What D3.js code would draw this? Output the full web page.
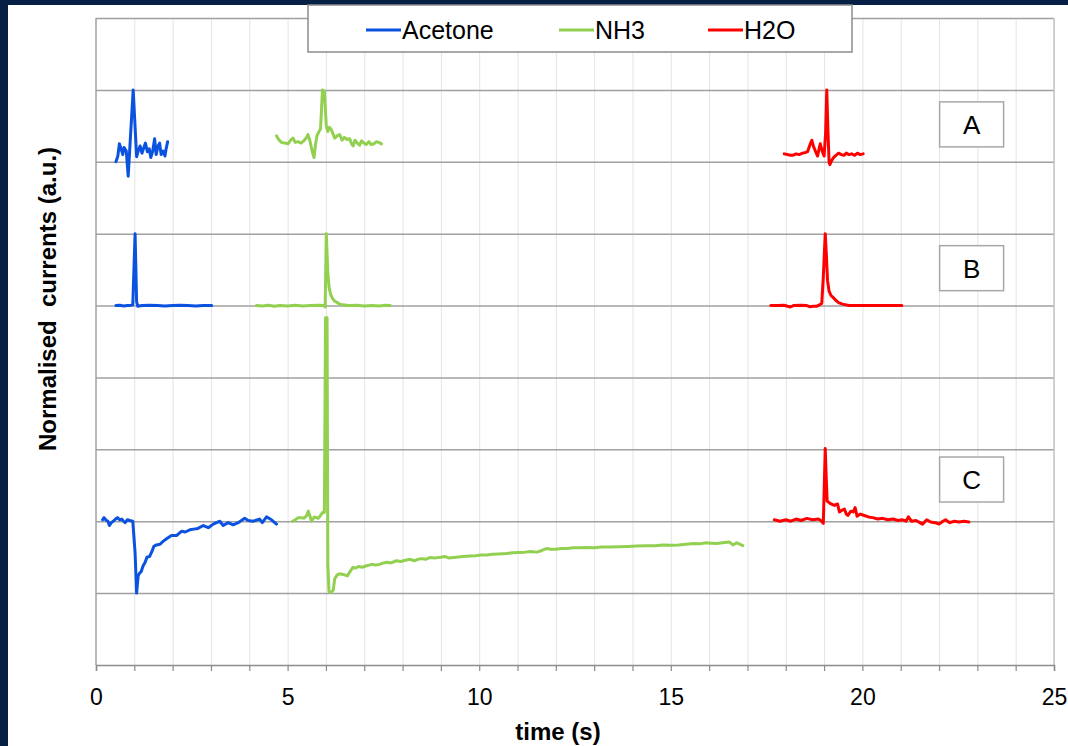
<!DOCTYPE html>
<html>
<head>
<meta charset="utf-8">
<script src="https://cdn.jsdelivr.net/npm/d3@7"></script>
<style>
  body { margin: 0; background: #061f45; }
  svg { display: block; font-family: "Liberation Sans", Arial, sans-serif; }
</style>
</head>
<body>
<div id="chart"></div>
<script>
// series and panels
const seriesNames = ["Acetone", "NH3", "H2O"];
const seriesColors = ["#0b52e0", "#92d050", "#ff0000"];
const panelNames = ["A", "B", "C"];
const panelOffsets = [7, 5, 2];
const xTickLabels = [0, 5, 10, 15, 20, 25];

// [time (s), normalised current relative to the panel baseline]
const acetoneA = [[0.52,0],[0.57,0.08],[0.61,0.25],[0.66,0.17],[0.70,0.10],[0.73,0.2],[0.79,0.15],[0.84,-0.2],[0.97,1.0],[1.06,0.07],[1.10,0.15],[1.15,0.22],[1.20,0.12],[1.25,0.2],[1.29,0.26],[1.34,0.14],[1.39,0.18],[1.43,0.06],[1.48,0.15],[1.53,0.32],[1.57,0.1],[1.62,0.22],[1.66,0.26],[1.70,0.10],[1.75,0.15],[1.80,0.08],[1.83,0.18],[1.87,0.28]];
const nh3A = [[4.71,0.36],[4.78,0.30],[4.84,0.27],[4.92,0.26],[5.01,0.25],[5.08,0.30],[5.14,0.33],[5.20,0.27],[5.27,0.28],[5.35,0.26],[5.42,0.29],[5.50,0.34],[5.53,0.38],[5.58,0.30],[5.64,0.15],[5.69,0.06],[5.73,0.25],[5.77,0.37],[5.83,0.43],[5.86,0.46],[5.91,1.0],[5.96,0.98],[6.01,0.5],[6.05,0.42],[6.09,0.48],[6.14,0.45],[6.19,0.38],[6.23,0.33],[6.29,0.36],[6.36,0.38],[6.42,0.30],[6.48,0.34],[6.55,0.31],[6.62,0.32],[6.67,0.25],[6.71,0.22],[6.76,0.30],[6.82,0.26],[6.88,0.23],[6.93,0.29],[6.99,0.26],[7.05,0.24],[7.12,0.28],[7.18,0.24],[7.25,0.25],[7.32,0.28],[7.38,0.27],[7.45,0.25]];
const h2oA = [[17.96,0.11],[18.05,0.10],[18.12,0.09],[18.18,0.09],[18.27,0.11],[18.35,0.10],[18.44,0.12],[18.52,0.13],[18.57,0.14],[18.62,0.22],[18.68,0.30],[18.72,0.22],[18.78,0.14],[18.83,0.08],[18.87,0.18],[18.90,0.25],[18.95,0.15],[19.0,0.08],[19.04,0.4],[19.07,1.0],[19.10,0.45],[19.13,0.0],[19.15,-0.04],[19.20,0.02],[19.25,0.06],[19.31,0.09],[19.38,0.12],[19.45,0.10],[19.52,0.09],[19.58,0.12],[19.65,0.10],[19.72,0.11],[19.80,0.09],[19.87,0.12],[19.94,0.10],[20.02,0.11]];

const acetoneB = [[0.52,0],[0.62,0.005],[0.72,-0.005],[0.82,0],[0.92,0.005],[0.96,0.01],[1.02,1.0],[1.06,0.05],[1.09,-0.01],[1.2,0],[1.4,0.005],[1.6,0],[1.8,-0.005],[2.0,0],[2.2,0.005],[2.4,0],[2.6,-0.005],[2.8,0],[3.02,0]];
const nh3B = [[4.19,0],[4.35,-0.005],[4.5,0.005],[4.65,-0.01],[4.8,0],[5.0,-0.005],[5.2,0.005],[5.4,-0.005],[5.6,0],[5.8,0.005],[5.95,0],[5.98,-0.02],[6.01,1.0],[6.05,0.45],[6.08,0.26],[6.12,0.16],[6.17,0.10],[6.23,0.06],[6.30,0.04],[6.36,0.02],[6.43,0.01],[6.6,0],[6.8,0.005],[7.0,-0.005],[7.2,0],[7.4,-0.005],[7.55,0.005],[7.68,0]];
const h2oB = [[17.61,0],[17.8,0],[17.95,0.005],[18.12,-0.02],[18.2,0],[18.4,0.005],[18.55,0],[18.62,-0.015],[18.72,-0.01],[18.8,-0.01],[18.88,0.01],[18.94,0.03],[18.98,0.4],[19.03,1.0],[19.06,0.7],[19.09,0.35],[19.13,0.2],[19.18,0.14],[19.24,0.11],[19.31,0.07],[19.38,0.04],[19.48,0.02],[19.65,0],[19.9,0],[20.2,0],[20.5,0],[20.8,0],[21.03,0]];

const acetoneC = [[0.17,0.02],[0.21,0.05],[0.27,0.01],[0.31,0.0],[0.35,-0.06],[0.40,-0.02],[0.45,0.0],[0.51,0.03],[0.56,0.05],[0.62,0.02],[0.67,0.03],[0.72,0.0],[0.76,-0.02],[0.82,0.02],[0.88,0.01],[0.96,0.0],[1.02,-0.44],[1.06,-1.0],[1.10,-0.76],[1.14,-0.72],[1.18,-0.70],[1.23,-0.62],[1.28,-0.575],[1.33,-0.50],[1.40,-0.49],[1.46,-0.42],[1.51,-0.35],[1.58,-0.33],[1.67,-0.32],[1.75,-0.28],[1.85,-0.24],[1.97,-0.20],[2.10,-0.20],[2.23,-0.14],[2.33,-0.15],[2.45,-0.12],[2.55,-0.11],[2.66,-0.10],[2.80,-0.06],[2.93,-0.09],[3.06,-0.04],[3.23,0.0],[3.32,-0.06],[3.45,-0.02],[3.58,-0.05],[3.71,-0.02],[3.88,0.04],[3.97,0.01],[4.10,0.0],[4.27,0.03],[4.34,-0.02],[4.45,0.06],[4.58,0.02],[4.71,-0.04]];
const nh3C = [[5.13,0.0],[5.20,0.02],[5.28,0.05],[5.36,0.05],[5.43,0.04],[5.50,0.08],[5.54,0.14],[5.58,0.08],[5.62,0.0],[5.70,0.06],[5.75,0.05],[5.80,0.04],[5.86,0.08],[5.91,0.12],[5.96,0.12],[5.99,2.83],[6.03,2.83],[6.05,-0.6],[6.08,-0.98],[6.13,-0.99],[6.19,-0.96],[6.23,-0.80],[6.29,-0.75],[6.35,-0.73],[6.45,-0.74],[6.56,-0.76],[6.63,-0.70],[6.70,-0.645],[6.78,-0.65],[6.85,-0.63],[6.95,-0.64],[7.06,-0.62],[7.13,-0.61],[7.2,-0.60],[7.3,-0.61],[7.4,-0.60],[7.5,-0.58],[7.6,-0.57],[7.7,-0.58],[7.84,-0.55],[7.95,-0.56],[8.1,-0.54],[8.2,-0.53],[8.3,-0.55],[8.4,-0.53],[8.5,-0.52],[8.6,-0.53],[8.71,-0.505],[8.85,-0.51],[9.0,-0.50],[9.1,-0.49],[9.2,-0.51],[9.4,-0.50],[9.58,-0.49],[9.75,-0.485],[9.9,-0.48],[10.05,-0.47],[10.2,-0.47],[10.35,-0.46],[10.5,-0.455],[10.7,-0.45],[10.88,-0.44],[11.05,-0.435],[11.2,-0.43],[11.35,-0.42],[11.5,-0.43],[11.62,-0.41],[11.75,-0.38],[11.88,-0.39],[12.0,-0.39],[12.15,-0.38],[12.3,-0.38],[12.45,-0.37],[12.62,-0.37],[12.8,-0.365],[13.0,-0.37],[13.2,-0.36],[13.4,-0.36],[13.65,-0.355],[13.9,-0.35],[14.1,-0.345],[14.36,-0.34],[14.6,-0.34],[14.8,-0.33],[15.0,-0.335],[15.2,-0.33],[15.4,-0.32],[15.6,-0.31],[15.75,-0.315],[15.92,-0.30],[16.05,-0.305],[16.2,-0.31],[16.35,-0.30],[16.53,-0.29],[16.62,-0.33],[16.72,-0.30],[16.8,-0.32],[16.88,-0.34]];
const h2oC = [[17.70,0.02],[17.85,0.0],[18.0,0.02],[18.13,0.0],[18.27,0.03],[18.40,0.01],[18.55,0.04],[18.70,0.02],[18.85,0.03],[18.92,0.01],[18.98,-0.03],[19.03,1.01],[19.06,0.55],[19.08,0.28],[19.18,0.24],[19.27,0.22],[19.35,0.24],[19.40,0.13],[19.46,0.15],[19.53,0.17],[19.58,0.10],[19.62,0.08],[19.70,0.14],[19.76,0.13],[19.81,0.19],[19.86,0.07],[19.95,0.10],[20.05,0.08],[20.16,0.06],[20.27,0.05],[20.40,0.03],[20.53,0.04],[20.66,0.02],[20.80,0.03],[20.93,0.01],[21.05,0.02],[21.14,0.0],[21.20,0.06],[21.28,0.0],[21.40,0.01],[21.50,-0.02],[21.57,-0.04],[21.68,0.02],[21.78,-0.01],[21.90,-0.02],[22.0,-0.04],[22.10,0.0],[22.17,0.02],[22.28,-0.02],[22.40,0.0],[22.52,-0.01],[22.65,0.0],[22.78,-0.01]];

const traces = [
  { series: 0, panel: 0, values: acetoneA },
  { series: 1, panel: 0, values: nh3A },
  { series: 2, panel: 0, values: h2oA },
  { series: 0, panel: 1, values: acetoneB },
  { series: 1, panel: 1, values: nh3B },
  { series: 2, panel: 1, values: h2oB },
  { series: 0, panel: 2, values: acetoneC },
  { series: 1, panel: 2, values: nh3C },
  { series: 2, panel: 2, values: h2oC },
];

const width = 1068, height = 746;
const margin = { top: 18, right: 14, bottom: 81, left: 96 };
const innerW = width - margin.left - margin.right;
const innerH = height - margin.top - margin.bottom;

const svg = d3.select("#chart").append("svg")
  .attr("width", width)
  .attr("height", height);

// dark frame, white page
svg.append("rect").attr("width", width).attr("height", height).attr("fill", "#061f45");
svg.append("rect").attr("x", 8).attr("y", 5).attr("width", width - 8).attr("height", height - 5).attr("fill", "#ffffff");

const g = svg.append("g").attr("transform", `translate(${margin.left},${margin.top})`);

const x = d3.scaleLinear().domain([0, 25]).range([0, innerW]);
const y = d3.scaleLinear().domain([0, 9]).range([innerH, 0]);

// minor vertical grid every second
g.append("g")
  .call(d3.axisBottom(x).tickValues(d3.range(1, 26)).tickSize(innerH).tickFormat(""))
  .call(a => a.select(".domain").remove())
  .call(a => a.selectAll("line").attr("stroke", "#e4e4e4").attr("stroke-width", 1));

// major horizontal grid
g.append("g")
  .call(d3.axisLeft(y).tickValues(d3.range(1, 10)).tickSize(-innerW).tickFormat(""))
  .call(a => a.select(".domain").remove())
  .call(a => a.selectAll("line").attr("stroke", "#a0a0a0").attr("stroke-width", 1.5));

// left and right frame
g.append("line").attr("x1", 0).attr("x2", 0).attr("y1", 0).attr("y2", innerH)
  .attr("stroke", "#a0a0a0").attr("stroke-width", 1.5);
g.append("line").attr("x1", innerW).attr("x2", innerW).attr("y1", 0).attr("y2", innerH)
  .attr("stroke", "#c4c4c4").attr("stroke-width", 1.5);

// x axis
const xAxis = g.append("g")
  .attr("transform", `translate(0,${innerH})`)
  .call(d3.axisBottom(x).tickValues(d3.range(0, 26)).tickSize(6).tickPadding(18)
    .tickFormat(d => xTickLabels.includes(d) ? d : ""));
xAxis.select(".domain").attr("stroke", "#8c8c8c").attr("stroke-width", 1.5);
xAxis.selectAll("line").attr("stroke", "#8c8c8c").attr("stroke-width", 1.2);
xAxis.selectAll("text")
  .attr("fill", "#000")
  .style("font-size", "23px")
  .style("font-family", "'Liberation Sans', Arial, sans-serif");

// traces
const line = d3.line()
  .x(d => x(d[0]))
  .y(d => d[1]);

g.selectAll("path.trace")
  .data(traces)
  .join("path")
  .attr("class", "trace")
  .attr("d", t => line(t.values.map(v => [v[0], y(panelOffsets[t.panel] + v[1])])))
  .attr("fill", "none")
  .attr("stroke", t => seriesColors[t.series])
  .attr("stroke-width", 3)
  .attr("stroke-linejoin", "round")
  .attr("stroke-linecap", "round");

// panel labels
const boxW = 64, boxH = 45;
const labelG = g.selectAll("g.panel-label")
  .data(panelNames)
  .join("g")
  .attr("class", "panel-label")
  .attr("transform", (d, i) => `translate(${x(22.85)},${y(panelOffsets[i] + (i === 2 ? 0.58 : 0.52))})`);
labelG.append("rect")
  .attr("x", -boxW / 2).attr("y", -boxH / 2)
  .attr("width", boxW).attr("height", boxH)
  .attr("fill", "#fff")
  .attr("stroke", "#a8a8a8")
  .attr("stroke-width", 1.5);
labelG.append("text")
  .attr("text-anchor", "middle")
  .attr("dy", "0.36em")
  .style("font-size", "26px")
  .text(d => d);

// legend
const legend = svg.append("g").attr("transform", "translate(308,5)");
legend.append("rect")
  .attr("width", 544).attr("height", 47)
  .attr("fill", "#fff")
  .attr("stroke", "#8c8c8c")
  .attr("stroke-width", 1.5);
const legendX = [58, 251, 400];
const item = legend.selectAll("g.item")
  .data(seriesNames)
  .join("g")
  .attr("class", "item")
  .attr("transform", (d, i) => `translate(${legendX[i]},25)`);
item.append("line")
  .attr("x1", 0).attr("x2", 35)
  .attr("stroke", (d, i) => seriesColors[i])
  .attr("stroke-width", 3);
item.append("text")
  .attr("x", 36)
  .attr("dy", "0.36em")
  .style("font-size", "25px")
  .text(d => d);

// axis titles
svg.append("text")
  .attr("x", 558).attr("y", 740)
  .attr("text-anchor", "middle")
  .style("font-size", "24px")
  .style("font-weight", "bold")
  .text("time (s)");

svg.append("text")
  .attr("transform", "translate(56,299) rotate(-90)")
  .attr("text-anchor", "middle")
  .style("font-size", "24px")
  .style("font-weight", "bold")
  .style("white-space", "pre")
  .text("Normalised  currents (a.u.)");
</script>
</body>
</html>
